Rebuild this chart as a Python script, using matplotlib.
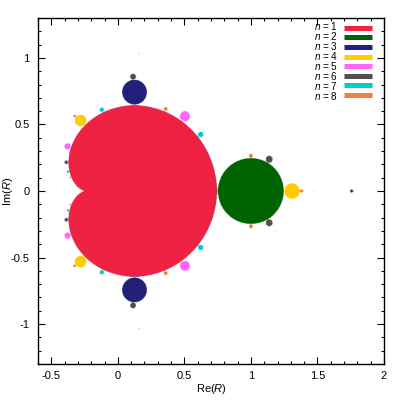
import numpy as np
import matplotlib
matplotlib.use("Agg")
import matplotlib.pyplot as plt
from matplotlib.colors import to_rgb
from matplotlib.ticker import MultipleLocator

# periods shown and their colours
periods = [1, 2, 3, 4, 5, 6, 7, 8]
colors = ["#ef2244", "#006400", "#21217a", "#ffcc00", "#ff66ff", "#505050", "#00cccc", "#f08040"]
labels = [r"$n$ = %d" % p for p in periods]

re_lim = [-0.6, 2.0]
im_lim = [-1.3, 1.3]
xticks = [-0.5, 0, 0.5, 1, 1.5, 2]
yticks = [-1, -0.5, 0, 0.5, 1]

plt.rcParams["font.family"] = ["Liberation Sans", "DejaVu Sans"]
plt.rcParams["mathtext.fontset"] = "custom"
plt.rcParams["mathtext.it"] = "Liberation Sans:italic"
plt.rcParams["mathtext.rm"] = "Liberation Sans"
plt.rcParams["axes.unicode_minus"] = False

# period of the attracting cycle of z -> z^2 - R
N = 900
re = np.linspace(re_lim[0], re_lim[1], N)
im = np.linspace(im_lim[0], im_lim[1], N)
R = (re[None, :] + 1j * im[:, None]).ravel()
alive = np.arange(R.size)
zc = np.zeros_like(R)
rc = R.copy()
for i in range(1500):
    zc = zc * zc - rc
    if i % 20 == 0:
        ok = np.abs(zc) < 4
        zc, rc, alive = zc[ok], rc[ok], alive[ok]
z0 = zc.copy()
found = np.zeros(zc.size, dtype=bool)
res = np.zeros(zc.size, dtype=int)
for n in periods:
    zc = zc * zc - rc
    hit = (~found) & (np.abs(zc - z0) < 1e-5)
    res[hit] = n
    found |= hit
period = np.zeros(R.size, dtype=int)
period[alive] = res
period = period.reshape(N, N)

img = np.ones((N, N, 3))
for p, c in zip(periods, colors):
    img[period == p] = to_rgb(c)

fig = plt.figure(figsize=(4.01, 4.01), dpi=100)
ax = fig.add_axes([38 / 401, 37 / 401, 346 / 401, 346 / 401])
ax.imshow(img, extent=[re_lim[0], re_lim[1], im_lim[0], im_lim[1]], origin="lower",
          aspect="auto", interpolation="antialiased")

# key, gnuplot style: labels then thick bars
row = 9.6
ymid = (364 - (27.7 + 3.5 * row)) / 346
ax.text(0.867, ymid, "\n".join(labels), transform=ax.transAxes, ha="right",
        va="center", fontsize=7.2, linespacing=0.8)
for i, c in enumerate(colors):
    yk = (364 - (27.7 + i * row)) / 346
    ax.plot([0.884, 0.965], [yk, yk], transform=ax.transAxes, color=c, lw=3.6,
            solid_capstyle="butt")

ax.set_xlim(re_lim)
ax.set_ylim(im_lim)
ax.set_xticks(xticks)
ax.set_yticks(yticks)
ax.set_xticklabels(["-0.5", "0", "0.5", "1", "1.5", "2"])
ax.set_yticklabels(["-1", "-0.5", "0", "0.5", "1"])
ax.xaxis.set_minor_locator(MultipleLocator(0.1))
ax.yaxis.set_minor_locator(MultipleLocator(0.1))
ax.tick_params(which="both", direction="in", top=True, right=True, labelsize=8, width=0.8)
ax.tick_params(which="major", length=5)
ax.tick_params(which="minor", length=2.5)
ax.tick_params(axis="y", pad=6)
ax.tick_params(axis="x", pad=5)
for s in ax.spines.values():
    s.set_linewidth(1)
ax.set_xlabel(r"Re($R$)", fontsize=8)
ax.set_ylabel(r"Im($R$)", fontsize=8)
ax.xaxis.set_label_coords(0.5, -0.052)
ax.yaxis.set_label_coords(-0.066, 0.5)

fig.savefig("out.png", dpi=100)
